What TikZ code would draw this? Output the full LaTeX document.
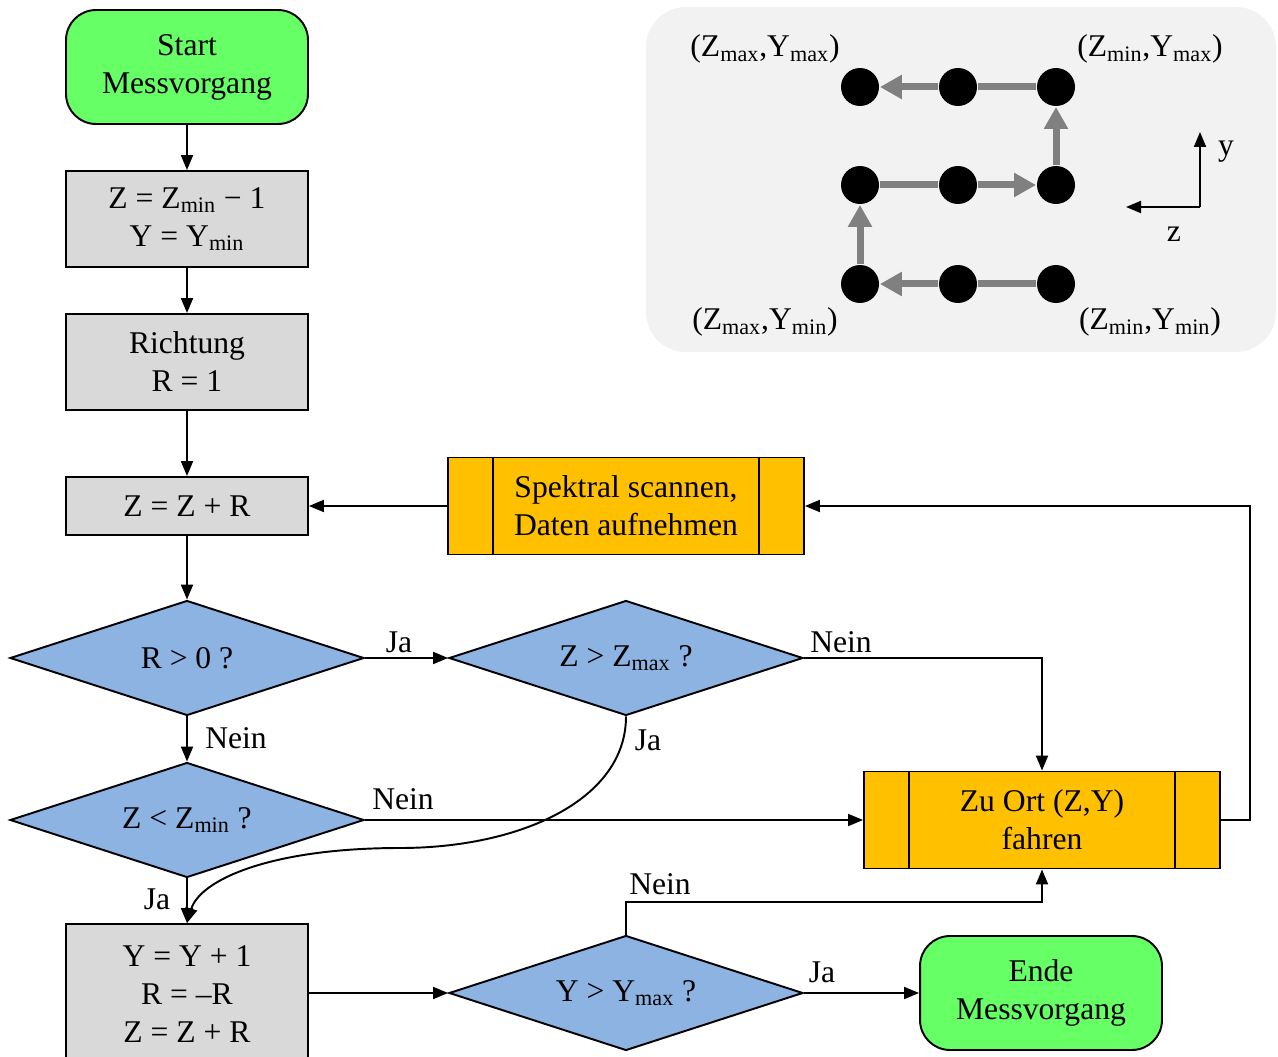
\documentclass[tikz,border=0pt]{standalone}
\usepackage{fontspec}
\setmainfont{Liberation Serif}
\usetikzlibrary{shapes.geometric,arrows.meta}

\definecolor{termgreen}{HTML}{66FF66}
\definecolor{calcgray}{HTML}{D9D9D9}
\definecolor{queryblue}{HTML}{8DB3E2}
\definecolor{procorange}{HTML}{FFC000}
\definecolor{panelgray}{HTML}{F2F2F2}
\definecolor{trackgray}{HTML}{808080}

\begin{document}
\begin{tikzpicture}[x=0.02cm, y=-0.02cm,
    font=\fontsize{18}{21.6}\selectfont,
    line width=1.1pt,
    >={Triangle[length=0.3cm,width=0.24cm]},
    term/.style={draw, rounded corners=0.6cm, fill=termgreen, align=center,
        minimum width=4.84cm, minimum height=2.28cm},
    calc/.style={draw, fill=calcgray, align=center, inner sep=0pt,
        minimum width=4.84cm, minimum height=1.92cm},
    query/.style={draw, diamond, fill=queryblue, aspect=3, inner sep=0pt,
        minimum width=7.08cm, minimum height=2.3cm},
    subproc/.style={draw, fill=procorange, align=center,
        minimum width=7.12cm, minimum height=1.94cm,
        path picture={
            \draw ([xshift=0.9cm]path picture bounding box.north west) -- ([xshift=0.9cm]path picture bounding box.south west)
                  ([xshift=-0.9cm]path picture bounding box.north east) -- ([xshift=-0.9cm]path picture bounding box.south east);}},
    dot/.style={circle, fill=black, minimum size=0.76cm, inner sep=0pt},
    track/.style={draw=trackgray, line width=0.14cm},
    tracktip/.style={track, -{Triangle[length=0.44cm,width=0.46cm]}}]

    \useasboundingbox (0,0) rectangle (1278,1057);

    % scan pattern
    \fill[panelgray, rounded corners=0.8cm] (646,7) rectangle (1276,352);

    \foreach \r/\y in {1/87, 2/185, 3/284}
        \foreach \c/\x in {1/860, 2/958, 3/1056}
            \node[dot] (d\r\c) at (\x,\y) {};

    \draw[track] (d33) -- (d32);
    \draw[tracktip] (d32) -- (d31);
    \draw[tracktip] (d31) -- (d21);
    \draw[track] (d21) -- (d22);
    \draw[tracktip] (d22) -- (d23);
    \draw[tracktip] (d23) -- (d13);
    \draw[track] (d13) -- (d12);
    \draw[tracktip] (d12) -- (d11);

    \node (cornerA) at (765,49) {(Z\textsubscript{max},Y\textsubscript{max})};
    \node (cornerB) at (1150,49) {(Z\textsubscript{min},Y\textsubscript{max})};
    \node (cornerC) at (765,322) {(Z\textsubscript{max},Y\textsubscript{min})};
    \node (cornerD) at (1150,322) {(Z\textsubscript{min},Y\textsubscript{min})};

    \coordinate (ax) at (1200,207);
    \coordinate (axy) at (1200,132);
    \coordinate (axz) at (1126,207);
    \draw[->] (ax) -- (axy);
    \draw[->] (ax) -- (axz);
    \node (ylab) at (1226,152) {y};
    \node (zlab) at (1174,234) {z};

    % flow chart
    \node[term] (start) at (187,67) {Start\\Messvorgang};
    \node[calc] (init) at (187,219) {Z = Z\textsubscript{min} − 1\\Y = Y\textsubscript{min}};
    \node[calc] (dir) at (187,362) {Richtung\\R = 1};
    \node[calc, minimum height=1.16cm] (zstep) at (187,506) {Z = Z + R};
    \node[query] (rpos) at (187,658) {R > 0 ?};
    \node[query] (zmin) at (187,820) {Z < Z\textsubscript{min} ?};
    \node[calc, minimum height=2.8cm] (ystep) at (187,994) {Y = Y + 1\\R = –R\\Z = Z + R};

    \node[subproc] (scan) at (626,506) {Spektral scannen,\\Daten aufnehmen};
    \node[query] (zmax) at (626,658) {Z > Z\textsubscript{max} ?};
    \node[query] (ymax) at (626,993) {Y > Y\textsubscript{max} ?};
    \node[subproc] (move) at (1042,820) {Zu Ort (Z,Y)\\fahren};
    \node[term] (ende) at (1041,993) {Ende\\Messvorgang};

    \coordinate (loop) at (1250,660);
    \coordinate (up) at (626,902);

    \draw[->] (start) -- (init);
    \draw[->] (init) -- (dir);
    \draw[->] (dir) -- (zstep);
    \draw[->] (zstep) -- (rpos);
    \draw[->] (rpos) -- (zmin);
    \draw[->] (rpos) -- (zmax);
    \draw[->] (zmax.east) -| (move.north);
    \draw[->] (zmin.east) -- (move.west);
    \draw[->] (zmin) -- (ystep);
    \draw[->] (zmax.south) .. controls (626,800) and (520,848) .. (400,848)
        .. controls (270,848) and (200,880) .. (ystep.north);
    \draw[->] (move.east) -| (loop) |- (scan.east);
    \draw[->] (scan) -- (zstep);
    \draw[->] (ystep.east |- ymax.west) -- (ymax.west);
    \draw[->] (ymax.north) -- (up) -| (move.south);
    \draw[->] (ymax) -- (ende);

    \node (lbNein1) at (236,738) {Nein};
    \node (lbJa1) at (399,642) {Ja};
    \node (lbNein2) at (841,642) {Nein};
    \node (lbJa2) at (648,740) {Ja};
    \node (lbNein3) at (403,799) {Nein};
    \node (lbJa3) at (157,899) {Ja};
    \node (lbNein4) at (660,884) {Nein};
    \node (lbJa4) at (822,972) {Ja};

\end{tikzpicture}
\end{document}
